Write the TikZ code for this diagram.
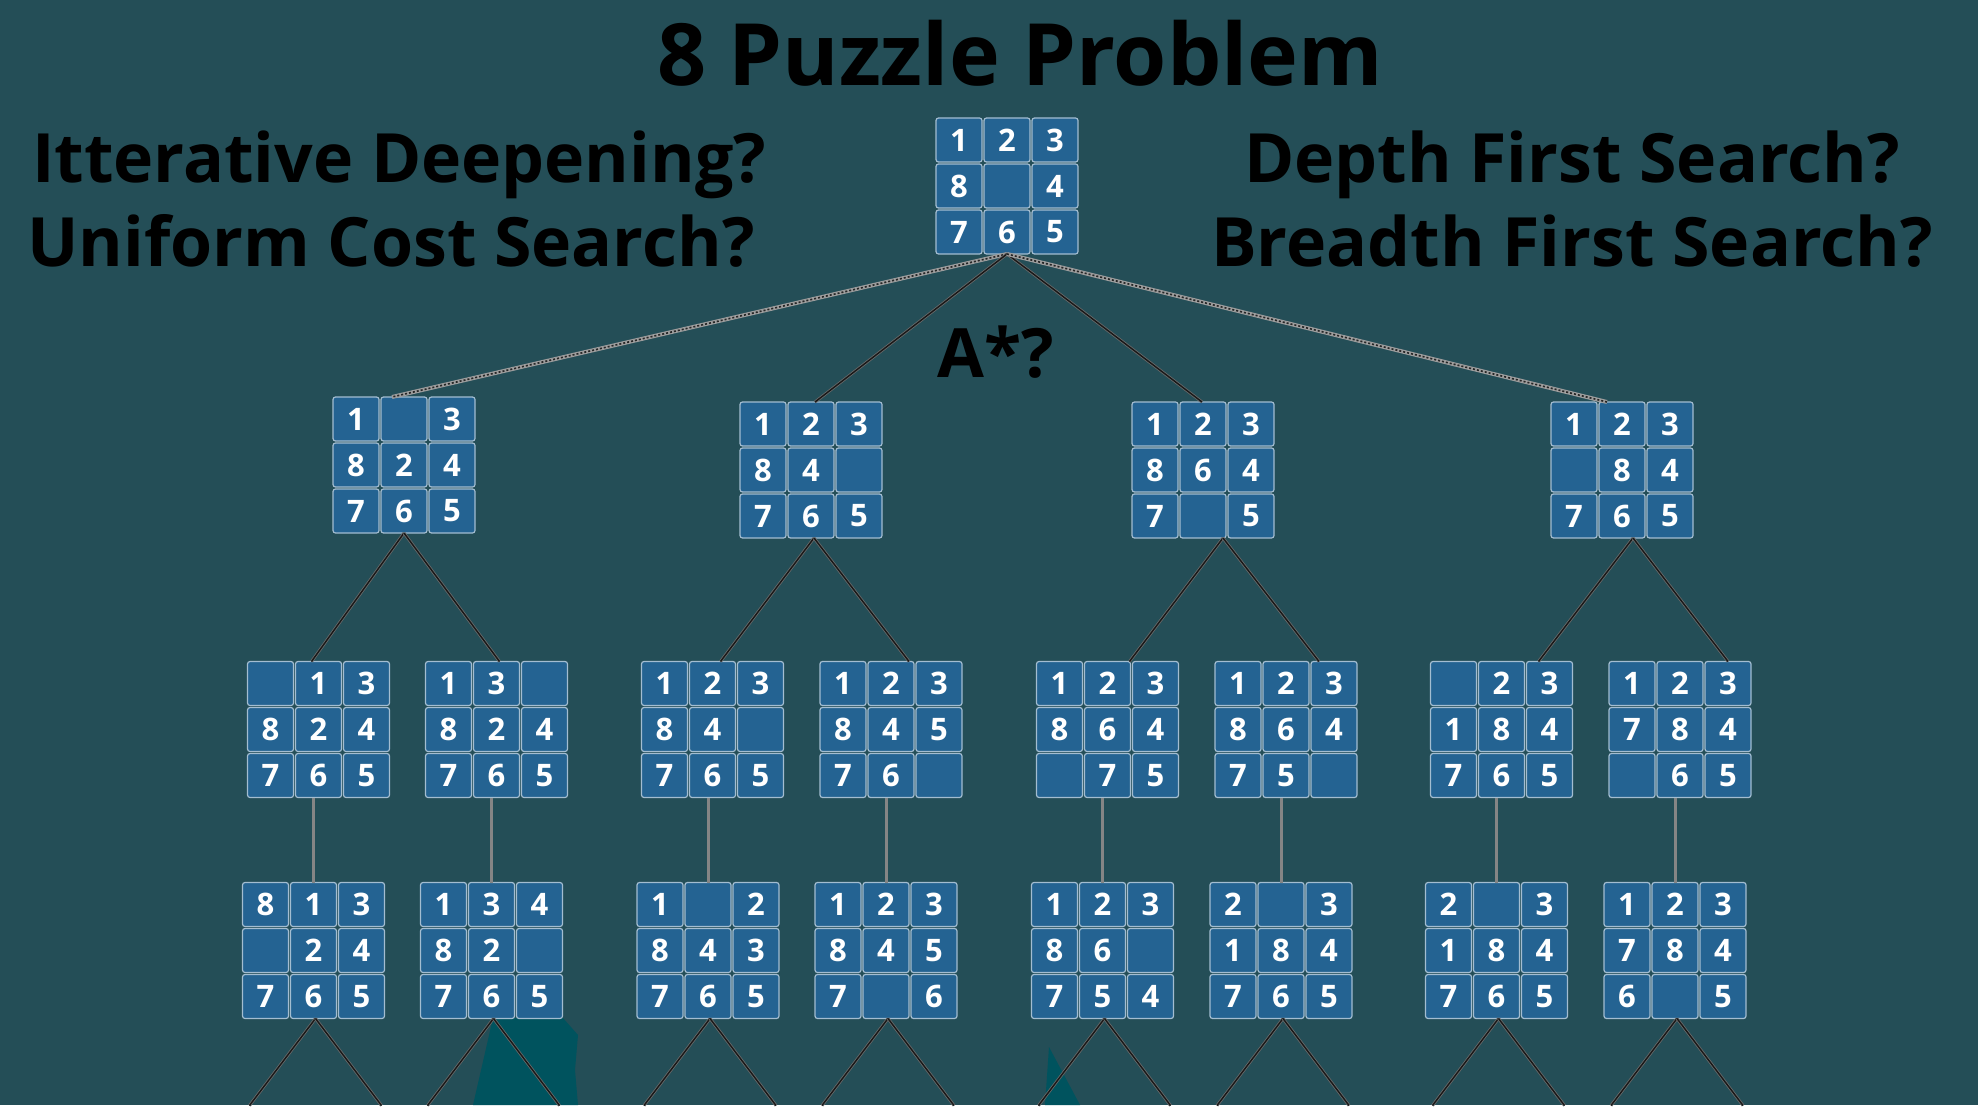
\documentclass[tikz,border=0pt]{standalone}
\usepackage{fontspec}
\setsansfont{Open Sans}
\definecolor{slate}{HTML}{244E57}
\definecolor{tileblue}{HTML}{246392}
\definecolor{tileedge}{HTML}{A3BDD1}
\definecolor{deepteal}{HTML}{00535E}
\definecolor{linkgray}{HTML}{858585}
\newcommand{\puzzle}[4]{%
  \draw (#2,#3) node[board] (#1) {};
  \foreach \digit [count=\i from 0] in {#4} {
    \pgfmathtruncatemacro{\col}{mod(\i,3)}
    \pgfmathtruncatemacro{\row}{div(\i,3)}
    \draw ({#2+(\col-1)*48},{#3+(\row-1)*46}) node[tile] {\digit};
  }}

\begin{document}
\begin{tikzpicture}[x=1pt,y=-1pt,inner sep=0pt,outer sep=0pt,
board/.style={rectangle,minimum width=142,minimum height=136},
tile/.style={draw=tileedge,fill=tileblue,line width=1.2pt,rounded corners=2.5pt,minimum width=46,minimum height=44,text=white,font=\sffamily\bfseries\fontsize{31}{31}\selectfont},
heading/.style={anchor=base,font=\sffamily\bfseries\fontsize{68}{68}\selectfont},
fan/.style={draw=linkgray!80!black,double=black!90,double distance=1.4pt,line width=0.8pt},
hatch/.style={draw=linkgray!80!white,line width=4pt,postaction={draw=black!85,line width=1.6pt,dash pattern=on 2pt off 2pt}},
stem/.style={draw=linkgray,line width=3pt}]

\fill[slate] (0,0) rectangle (1978,1105);
\fill[deepteal] (493,1018) -- (563,1018) -- (578,1035) -- (575,1070) -- (578,1105) -- (473,1105) -- cycle;
\fill[deepteal] (1049,1047) -- (1080,1105) -- (1045,1105) -- cycle;

\draw (1020,86) node[anchor=base,font=\sffamily\bfseries\fontsize{86}{86}\selectfont] (title) {8 Puzzle Problem};
\draw (399,183) node[heading] (ids) {Itterative Deepening?};
\draw (391,267) node[heading] (ucs) {Uniform Cost Search?};
\draw (1572,183) node[heading] (dfs) {Depth First Search?};
\draw (1572,267) node[heading] (bfs) {Breadth First Search?};
\draw (996,377) node[heading] (astar) {A*?};

\puzzle{root}{1007}{186}{1,2,3,8,{},4,7,6,5}
\puzzle{s1}{404}{465}{1,{},3,8,2,4,7,6,5}
\puzzle{s2}{811}{470}{1,2,3,8,4,{},7,6,5}
\puzzle{s3}{1203}{470}{1,2,3,8,6,4,7,{},5}
\puzzle{s4}{1622}{470}{1,2,3,{},8,4,7,6,5}
\puzzle{s1a}{318.5}{729.5}{{},1,3,8,2,4,7,6,5}
\puzzle{s1b}{496.5}{729.5}{1,3,{},8,2,4,7,6,5}
\puzzle{s2a}{712.5}{729.5}{1,2,3,8,4,{},7,6,5}
\puzzle{s2b}{891}{729.5}{1,2,3,8,4,5,7,6,{}}
\puzzle{s3a}{1107.5}{729.5}{1,2,3,8,6,4,{},7,5}
\puzzle{s3b}{1286}{729.5}{1,2,3,8,6,4,7,5,{}}
\puzzle{s4a}{1501.5}{729.5}{{},2,3,1,8,4,7,6,5}
\puzzle{s4b}{1680}{729.5}{1,2,3,7,8,4,{},6,5}
\puzzle{d1a}{313.5}{950.5}{8,1,3,{},2,4,7,6,5}
\puzzle{d1b}{491.5}{950.5}{1,3,4,8,2,{},7,6,5}
\puzzle{d2a}{708}{950.5}{1,{},2,8,4,3,7,6,5}
\puzzle{d2b}{886}{950.5}{1,2,3,8,4,5,7,{},6}
\puzzle{d3a}{1102.5}{950.5}{1,2,3,8,6,{},7,5,4}
\puzzle{d3b}{1281}{950.5}{2,{},3,1,8,4,7,6,5}
\puzzle{d4a}{1496.5}{950.5}{2,{},3,1,8,4,7,6,5}
\puzzle{d4b}{1675}{950.5}{1,2,3,7,8,4,6,{},5}

\draw[hatch] (root.south) -- ([xshift=-12]s1.north);
\draw[fan] (root.south) -- ([xshift=4]s2.north);
\draw[fan] (root.south) -- ([xshift=-1]s3.north);
\draw[hatch] (root.south) -- ([xshift=-15]s4.north);

\draw[fan] (s1.south) -- ([xshift=-7]s1a.north);
\draw[fan] (s1.south) -- ([xshift=3]s1b.north);
\draw[fan] ([xshift=3]s2.south) -- ([xshift=8]s2a.north);
\draw[fan] ([xshift=3]s2.south) -- ([xshift=18]s2b.north);
\draw[fan] ([xshift=20]s3.south) -- ([xshift=22]s3a.north);
\draw[fan] ([xshift=20]s3.south) -- ([xshift=33]s3b.north);
\draw[fan] ([xshift=11]s4.south) -- ([xshift=37]s4a.north);
\draw[fan] ([xshift=11]s4.south) -- ([xshift=48]s4b.north);

\foreach \n in {1a,1b,2a,2b,3a,3b,4a,4b} {
  \draw[stem] (d\n.north) -- (d\n.north |- s\n.south);
  \draw[fan] ([xshift=2]d\n.south) -- ++(-66,87);
  \draw[fan] ([xshift=2]d\n.south) -- ++(66,87);
}
\end{tikzpicture}
\end{document}
